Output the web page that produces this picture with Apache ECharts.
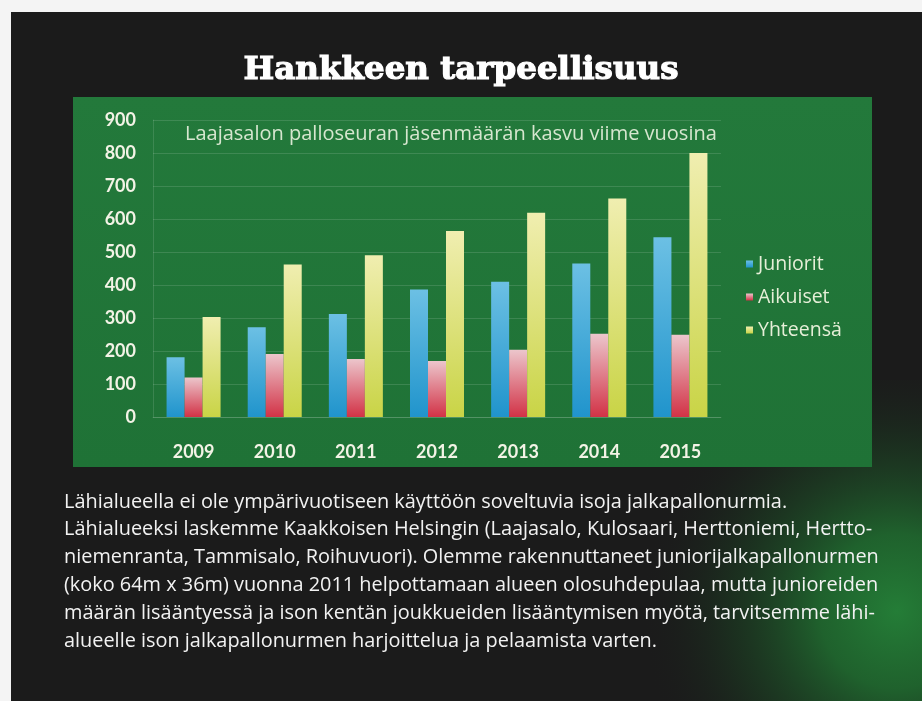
<!DOCTYPE html>
<html>
<head>
<meta charset="utf-8">
<script src="https://cdn.jsdelivr.net/npm/echarts@6/dist/echarts.min.js"></script>
<style>
  html, body { margin: 0; padding: 0; background: #f4f4f4; }
  #chart { width: 922px; height: 701px; }
</style>
</head>
<body>
<div id="chart"></div>
<script>
const years = ['2009', '2010', '2011', '2012', '2013', '2014', '2015']
const juniorit = [181, 272, 312, 386, 410, 465, 545]
const aikuiset = [120, 191, 176, 170, 204, 252, 249]
const yhteensa = [303, 462, 490, 564, 619, 662, 800]
const seriesNames = ['Juniorit', 'Aikuiset', 'Yhteensä']

const slideTitle = 'Hankkeen tarpeellisuus'
const chartTitle = 'Laajasalon palloseuran jäsenmäärän kasvu viime vuosina'
const bodyLines = [
  'Lähialueella ei ole ympärivuotiseen käyttöön soveltuvia isoja jalkapallonurmia.',
  'Lähialueeksi laskemme Kaakkoisen Helsingin (Laajasalo, Kulosaari, Herttoniemi, Hertto-',
  'niemenranta, Tammisalo, Roihuvuori). Olemme rakennuttaneet juniorijalkapallonurmen',
  '(koko 64m x 36m) vuonna 2011 helpottamaan alueen olosuhdepulaa, mutta junioreiden',
  'määrän lisääntyessä ja ison kentän joukkueiden lisääntymisen myötä, tarvitsemme lähi-',
  'alueelle ison jalkapallonurmen harjoittelua ja pelaamista varten.'
]

const chart = echarts.init(document.getElementById('chart'))

const grad = (top, bottom) => new echarts.graphic.LinearGradient(0, 0, 0, 1, [
  { offset: 0, color: top },
  { offset: 1, color: bottom }
])

const labelFont = 'Lato, "Open Sans", sans-serif'
const textFont = '"Open Sans", Lato, sans-serif'

const option = {
  backgroundColor: '#f4f4f4',
  graphic: [
    // dark slide
    { type: 'rect', z: -20, shape: { x: 11, y: 12, width: 911, height: 689 }, style: { fill: '#1b1b1b' } },
    // green glow bottom-right
    {
      type: 'rect', z: -19,
      shape: { x: 420, y: 380, width: 502, height: 321 },
      style: {
        fill: new echarts.graphic.RadialGradient(0.95, 0.72, 0.8, [
          { offset: 0, color: 'rgba(36,125,55,1)' },
          { offset: 0.3, color: 'rgba(32,110,48,0.85)' },
          { offset: 0.65, color: 'rgba(28,70,36,0.45)' },
          { offset: 1, color: 'rgba(27,27,27,0)' }
        ])
      }
    },
    // green chart box
    {
      type: 'rect', z: -18,
      shape: { x: 73, y: 97, width: 799, height: 370 },
      style: { fill: grad('#23793b', '#1f7236') }
    },
    {
      type: 'text', z: 10, left: 'center', top: 53,
      style: {
        text: slideTitle, fill: '#ffffff', stroke: '#ffffff', lineWidth: 1.2,
        font: 'bold 32.5px "DejaVu Serif", serif'
      }
    },
    {
      type: 'text', z: 10, left: 185, top: 124,
      style: { text: chartTitle, fill: '#d6e6cf', font: '20px ' + textFont }
    },
    {
      type: 'text', z: 10, left: 64, top: 488,
      style: {
        text: bodyLines.join('\n'), fill: '#f2f2f2',
        font: '19.9px ' + textFont, lineHeight: 27.8
      }
    }
  ],
  legend: {
    data: seriesNames,
    orient: 'vertical',
    left: 741,
    top: 249,
    itemWidth: 7,
    itemHeight: 7,
    itemGap: 13,
    icon: 'rect',
    textStyle: { color: '#e6efd8', fontSize: 19.5, fontFamily: textFont }
  },
  grid: { left: 153, right: 201, top: 120, bottom: 284 },
  xAxis: {
    type: 'category',
    data: years,
    axisLine: { show: true, lineStyle: { color: 'rgba(255,255,255,0.12)' } },
    axisTick: { show: false },
    axisLabel: { color: '#f3f3e6', fontSize: 18, fontFamily: labelFont, fontWeight: 'bold', margin: 26 }
  },
  yAxis: {
    type: 'value',
    min: 0,
    max: 900,
    interval: 100,
    axisLine: { show: true, lineStyle: { color: 'rgba(255,255,255,0.12)' } },
    axisTick: { show: false },
    axisLabel: { color: '#f3f3e6', fontSize: 18, fontFamily: labelFont, fontWeight: 'bold', margin: 17 },
    splitLine: { lineStyle: { color: 'rgba(255,255,255,0.13)' } }
  },
  series: [
    {
      name: seriesNames[0], type: 'bar', data: juniorit,
      barWidth: 18, barGap: '0%',
      itemStyle: { color: grad('#6cc0e4', '#2094cc') }
    },
    {
      name: seriesNames[1], type: 'bar', data: aikuiset,
      barWidth: 18, barGap: '0%',
      itemStyle: { color: grad('#ecc6cc', '#d23246') }
    },
    {
      name: seriesNames[2], type: 'bar', data: yhteensa,
      barWidth: 18, barGap: '0%',
      itemStyle: { color: grad('#f0eeb0', '#c9d446') }
    }
  ]
}

chart.setOption(option)
</script>
</body>
</html>
